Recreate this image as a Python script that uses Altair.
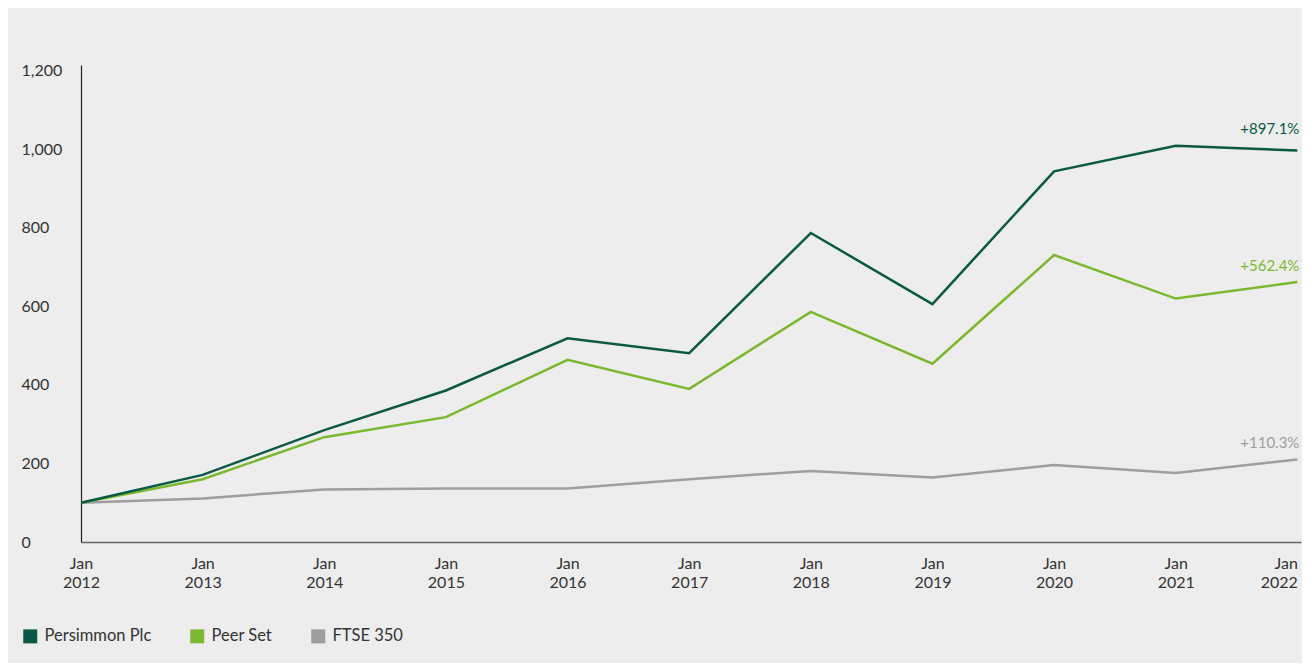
import altair as alt
import pandas as pd

years = list(range(2012, 2023))
persimmon = [100, 171, 285, 386, 519, 481, 787, 606, 944, 1009, 997.1]
peer = [100, 160, 267, 318, 464, 390, 586, 454, 731, 620, 662.4]
ftse = [100, 111, 134, 136, 136, 160, 181, 164, 196, 176, 210.3]
series_names = ["Persimmon Plc", "Peer Set", "FTSE 350"]
series_colors = ["#0b5944", "#7cb82f", "#9e9e9e"]
end_labels = ["+897.1%", "+562.4%", "+110.3%"]
y_ticks = [0, 200, 400, 600, 800, 1000, 1200]

all_vals = [persimmon, peer, ftse]
rows = []
# draw FTSE first so Persimmon sits on top
for name, vals in reversed(list(zip(series_names, all_vals))):
    for yr, v in zip(years, vals):
        rows.append({"year": yr, "series": name, "value": v})
df = pd.DataFrame(rows)

lab = pd.DataFrame({
    "series": series_names,
    "year": [years[-1]] * 3,
    "value": [v[-1] for v in all_vals],
    "label": end_labels,
})

FONT = "Lato"

color = alt.Color(
    "series:N",
    scale=alt.Scale(domain=series_names, range=series_colors),
    legend=alt.Legend(
        title=None,
        orient="none",
        legendX=-59,
        legendY=563,
        direction="horizontal",
        symbolType="square",
        symbolSize=49,
        symbolStrokeWidth=7,
        symbolOpacity=1,
        labelFont=FONT,
        labelFontSize=16.5,
        labelColor="#333333",
        labelOffset=6,
        columnPadding=27,
    ),
)

x = alt.X(
    "year:Q",
    scale=alt.Scale(domain=[2012, 2022.03], nice=False, zero=False),
    axis=alt.Axis(
        title=None,
        values=years,
        labelExpr="['Jan', '' + datum.value]",
        labelFont=FONT,
        labelFontSize=16,
        labelColor="#333333",
        labelLineHeight=19,
        labelPadding=13,
        labelAlign=alt.ExprRef(expr="datum.value == 2022 ? 'right' : 'center'"),
        ticks=False,
        tickSize=0,
        grid=False,
        domainColor="#666666",
        domainWidth=1.5,
    ),
)
y = alt.Y(
    "value:Q",
    scale=alt.Scale(domain=[0, 1215], nice=False),
    axis=alt.Axis(
        title=None,
        values=y_ticks,
        format=",d",
        labelFont=FONT,
        labelFontSize=16,
        labelColor="#333333",
        labelAlign="left",
        labelPadding=60,
        ticks=False,
        tickSize=0,
        grid=False,
        domainColor="#222222",
        domainWidth=1.2,
    ),
)

lines = alt.Chart(df).mark_line(strokeWidth=2.5).encode(x=x, y=y, color=color)

label_color = alt.Color(
    "series:N", scale=alt.Scale(domain=series_names, range=series_colors), legend=None
)
txt_top = alt.Chart(lab).transform_filter(alt.datum.series == "Persimmon Plc").mark_text(
    align="right", fontSize=15, font=FONT, dx=2, dy=-22
).encode(x="year:Q", y="value:Q", text="label:N", color=label_color)
txt_rest = alt.Chart(lab).transform_filter(alt.datum.series != "Persimmon Plc").mark_text(
    align="right", fontSize=15, font=FONT, dx=2, dy=-16
).encode(x="year:Q", y="value:Q", text="label:N", color=label_color)

chart = alt.layer(lines, txt_top, txt_rest).properties(
    width=1220,
    height=477,
    autosize=alt.AutoSizeParams(type="none"),
    padding={"left": 73, "top": 57, "right": 1, "bottom": 121},
    background="#ededed",
).configure_view(stroke=None)

chart.save("out.html", embed_options={"renderer": "svg", "actions": False})
